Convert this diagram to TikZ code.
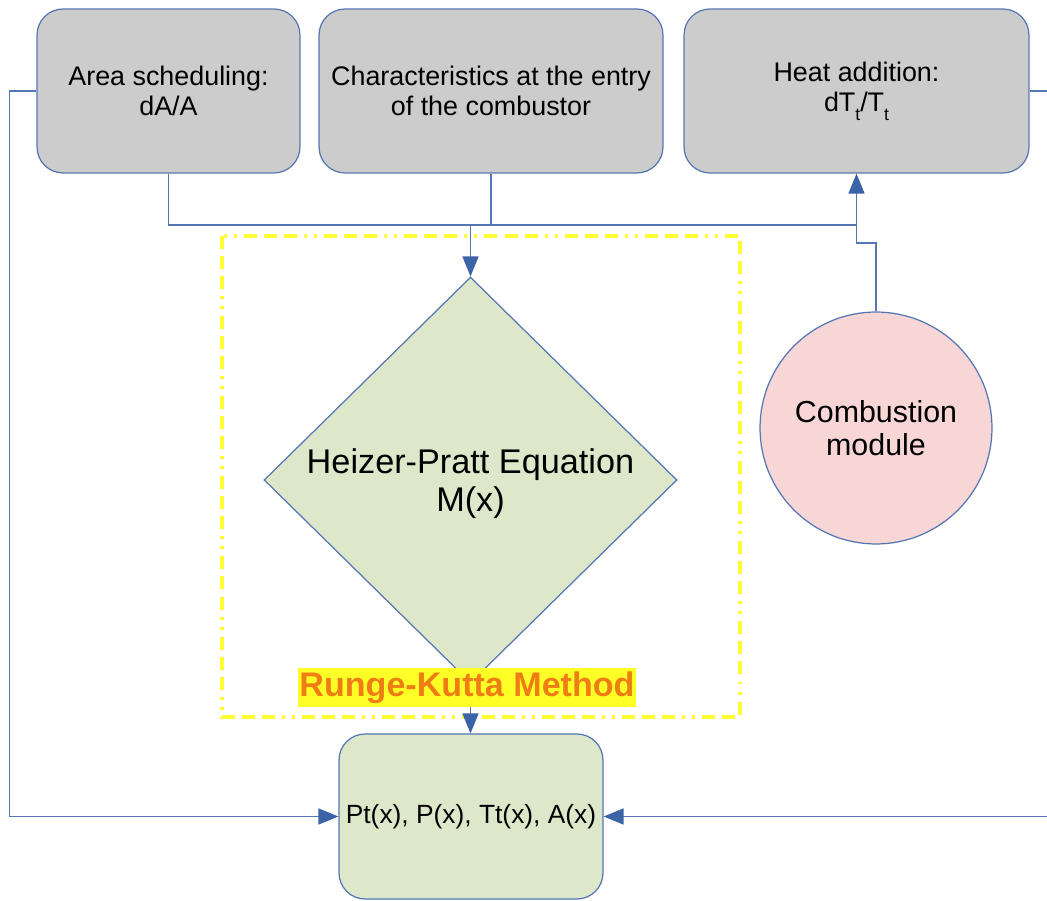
\documentclass[tikz,border=0pt]{standalone}
\usepackage{fontspec}
\setmainfont{Liberation Sans}
\usetikzlibrary{shapes.geometric,arrows.meta}
\definecolor{edgeblue}{RGB}{84,118,178}
\definecolor{tipblue}{RGB}{60,98,168}
\definecolor{boxgray}{RGB}{204,204,204}
\definecolor{eqgreen}{RGB}{221,232,203}
\definecolor{combpink}{RGB}{248,214,214}
\definecolor{rkyellow}{RGB}{255,255,40}
\definecolor{rkframe}{RGB}{255,255,50}
\definecolor{rkorange}{RGB}{240,125,20}
\newcommand{\lowsub}[1]{\raisebox{-0.6ex}{\fontsize{10}{10}\selectfont #1}}
\tikzset{
  inbox/.style={draw=edgeblue, line width=0.7pt, fill=boxgray, rounded corners=0.52cm,
    minimum height=3.28cm, align=center, font=\fontsize{15.3}{17.5}\selectfont},
  conn/.style={draw=edgeblue, line width=0.9pt},
  arr/.style={conn, -{Triangle[width=0.32cm,length=0.4cm,color=tipblue]}},
  dashframe/.style={draw=rkframe, line width=2.5pt,
    dash pattern=on 7.4pt off 4pt on 7.4pt off 4pt on 7.4pt off 4pt on 1.7pt off 4pt on 1.7pt off 4pt}
}
\begin{document}
\begin{tikzpicture}[x=0.02cm, y=-0.02cm]
  \useasboundingbox (0,0) rectangle (1047,901);
  \clip (0,0) rectangle (1047,901);
  % inputs
  \node[inbox, minimum width=5.26cm] (area) at (168.5,91) {Area scheduling:\\dA/A};
  \node[inbox, minimum width=6.88cm] (entry) at (491,91) {Characteristics at the entry\\of the combustor};
  \node[inbox, minimum width=6.9cm] (heat) at (856.5,91) {Heat addition:\\dT\lowsub{t}/T\lowsub{t}};
  % solver
  \draw[dashframe] (222,236) rectangle (740,717);
  \node[diamond, draw=edgeblue, fill=eqgreen, line width=0.7pt, minimum width=8.26cm,
    minimum height=8.12cm, inner sep=0pt] (hp) at (470.5,480) {};
  \node[font=\fontsize{19.5}{21.6}\selectfont, align=center] (hptext) at (470.5,484) {Heizer-Pratt Equation\\M(x)};
  \node[circle, draw=edgeblue, fill=combpink, line width=0.7pt, minimum size=4.64cm,
    align=center, font=\fontsize{17.3}{18.8}\selectfont] (comb) at (876,428) {Combustion\\module};
  \node[inbox, fill=eqgreen, minimum width=5.28cm, minimum height=3.3cm, inner sep=1pt,
    font=\fontsize{15}{18}\selectfont] (out) at (471,816.5) {Pt(x), P(x), Tt(x), A(x)};
  % connectors
  \coordinate (bus) at (0,225);
  \coordinate (kink) at (0,243);
  \draw[conn] (area.south) |- (heat.south |- bus);
  \draw[conn] (entry.south) -- (entry.south |- bus);
  \draw[arr] (hp.north |- bus) -- (hp.north);
  \draw[arr] (comb.north) |- (heat.south |- kink) -- (heat.south);
  \draw[arr] (area.west) -- ++(-27,0) |- (out.west);
  \draw[arr] (heat.east) -- ++(40,0) |- (out.east);
  \draw[arr] (hp.south) -- (hp.south |- out.north);
  \node[fill=rkyellow, text=rkorange, font=\bfseries\fontsize{19.4}{21}\selectfont,
    inner xsep=1pt, inner ysep=2pt] (rk) at (467,687.5) {Runge-Kutta Method};
\end{tikzpicture}
\end{document}
